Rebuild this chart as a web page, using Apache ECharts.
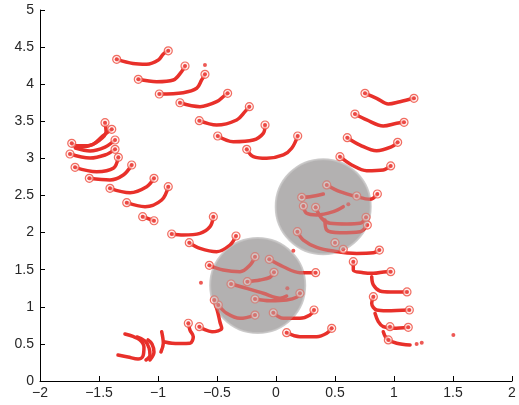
<!DOCTYPE html>
<html>
<head>
<meta charset="utf-8">
<script src="https://cdn.jsdelivr.net/npm/echarts@6/dist/echarts.min.js"></script>
<style>html,body{margin:0;padding:0;background:#fff}#c{width:519px;height:405px}</style>
</head>
<body>
<div id="c"></div>
<script>
// ---- data ----
const xTicks = [-2, -1.5, -1, -0.5, 0, 0.5, 1, 1.5, 2];
const yTicks = [0, 0.5, 1, 1.5, 2, 2.5, 3, 3.5, 4, 4.5, 5];

// obstacle centres
const obstacles = [[0.40, 2.35], [-0.155, 1.287]];

// trajectories: points, and which ends carry a ring marker
const trajT1 = [[-1.35,4.335],[-1.212,4.28],[-1.096,4.27],[-0.997,4.326],[-0.955,4.407],[-0.913,4.45]];
const trajT2 = [[-1.167,4.066],[-1.011,4.034],[-0.87,4.057],[-0.80,4.17],[-0.771,4.245]];
const trajT3 = [[-0.989,3.868],[-0.786,3.886],[-0.672,3.945],[-0.63,4.057],[-0.602,4.133]];
const trajT4 = [[-0.814,3.75],[-0.644,3.697],[-0.503,3.764],[-0.432,3.854],[-0.41,3.877]];
const trajT5 = [[-0.65,3.508],[-0.503,3.45],[-0.333,3.518],[-0.263,3.63],[-0.226,3.697]];
const trajT6 = [[-0.494,3.302],[-0.362,3.225],[-0.192,3.248],[-0.108,3.338],[-0.093,3.45]];
const trajT7 = [[-0.248,3.122],[-0.192,3.023],[-0.079,3.001],[0.062,3.046],[0.133,3.136],[0.184,3.302]];

const trajK1 = [[-1.731,3.203],[-1.66,3.15],[-1.55,3.19],[-1.47,3.3],[-1.392,3.392]];
const trajK2 = [[-1.449,3.481],[-1.44,3.36],[-1.5,3.24],[-1.6,3.17],[-1.72,3.17]];
const trajK3 = [[-1.746,3.059],[-1.576,3.005],[-1.449,3.046],[-1.364,3.122]];
const trajK4 = [[-1.70,3.14],[-1.576,3.10],[-1.449,3.153],[-1.364,3.248]];
const trajK5 = [[-1.703,2.88],[-1.52,2.821],[-1.379,2.867],[-1.336,3.015]];
const trajK6 = [[-1.582,2.732],[-1.407,2.709],[-1.294,2.776],[-1.223,2.911]];
const trajK7 = [[-1.407,2.597],[-1.237,2.538],[-1.096,2.619],[-1.034,2.732]];
const trajK8 = [[-1.265,2.403],[-1.11,2.349],[-0.969,2.439],[-0.913,2.619]];
const trajK9 = [[-1.13,2.214],[-1.034,2.16]];

const trajR1 = [[0.754,3.877],[0.853,3.81],[0.952,3.733],[1.051,3.764],[1.169,3.81]];
const trajR2 = [[0.669,3.598],[0.769,3.518],[0.909,3.437],[1.023,3.473],[1.085,3.486]];
const trajR3 = [[0.604,3.279],[0.712,3.18],[0.853,3.104],[0.981,3.158],[1.031,3.217]];
const trajR4 = [[0.542,3.023],[0.642,2.911],[0.769,2.834],[0.909,2.844],[0.972,2.898]];

const trajE1 = [[0.43,2.642],[0.542,2.551],[0.684,2.484],[0.797,2.449],[0.859,2.52]];
const trajE2 = [[0.218,2.476],[0.288,2.484],[0.401,2.52]];
const trajE3 = [[0.232,2.358],[0.26,2.26],[0.345,2.237],[0.486,2.282],[0.57,2.349]];
const trajE4 = [[0.336,2.341],[0.387,2.193],[0.458,2.125],[0.599,2.116],[0.712,2.125],[0.763,2.206]];
const trajE5 = [[0.415,2.17],[0.43,2.035],[0.542,1.999],[0.712,2.012],[0.774,2.102]];
const trajF  = [[0.181,2.012],[0.232,1.9],[0.345,1.802],[0.486,1.752],[0.684,1.72],[0.825,1.728],[0.876,1.765]];

const trajC1 = [[0.655,1.608],[0.655,1.496],[0.739,1.46],[0.825,1.451],[0.938,1.473],[0.972,1.473]];
const trajC2 = [[0.811,1.406],[0.825,1.294],[0.881,1.213],[0.972,1.2],[1.11,1.2]];
const trajC3 = [[0.825,1.136],[0.811,1.047],[0.853,0.957],[0.938,0.947],[1.13,0.957]];
const trajC4 = [[0.839,0.912],[0.867,0.80],[0.909,0.732],[0.994,0.71],[1.121,0.723]];
const trajC5 = [[0.909,0.664],[0.938,0.575],[1.023,0.508],[1.136,0.485]];

const trajH1 = [[0.09,0.651],[0.203,0.597],[0.345,0.597],[0.43,0.643],[0.472,0.71]];
const trajH2 = [[-0.023,0.92],[0.062,0.845],[0.203,0.845],[0.288,0.889],[0.322,0.957]];

const trajM1 = [[-0.884,1.981],[-0.786,1.968],[-0.644,1.99],[-0.559,2.08],[-0.531,2.214]];
const trajM2 = [[-0.735,1.864],[-0.644,1.788],[-0.503,1.743],[-0.39,1.833],[-0.339,1.954]];

const trajG1 = [[-0.565,1.559],[-0.447,1.496],[-0.305,1.473],[-0.22,1.563],[-0.178,1.675]];
const trajG2 = [[-0.057,1.64],[0.062,1.54],[0.203,1.46],[0.336,1.46]];
const trajG3 = [[-0.243,1.338],[-0.136,1.361],[-0.051,1.397],[-0.017,1.465]];
const trajG4 = [[-0.381,1.307],[-0.248,1.249],[-0.108,1.182],[0.034,1.115],[0.09,1.146]];
const trajG5 = [[-0.178,1.105],[-0.051,1.082],[0.09,1.092],[0.175,1.128],[0.203,1.182]];
const trajD1 = [[-0.489,1.024],[-0.418,0.912],[-0.305,0.845],[-0.178,0.889]];
const trajD2 = [[-0.523,1.092],[-0.492,0.916],[-0.475,0.795],[-0.46,0.71],[-0.542,0.664],[-0.619,0.701],[-0.65,0.732]];

const trajB1 = [[-1.339,0.350],[-1.254,0.323],[-1.169,0.296],[-1.127,0.337],[-1.119,0.458],[-1.153,0.553],[-1.212,0.600],[-1.280,0.633]];
const trajB2 = [[-1.178,0.593],[-1.110,0.539],[-1.076,0.445],[-1.068,0.350],[-1.102,0.283]];
const trajB3 = [[-1.085,0.553],[-1.051,0.499],[-1.034,0.391],[-1.068,0.283]];
const trajB4 = [[-0.969,0.664],[-0.955,0.508],[-0.975,0.391]];
const trajB5 = [[-0.941,0.526],[-0.881,0.508],[-0.814,0.505],[-0.729,0.508],[-0.701,0.597],[-0.729,0.687],[-0.743,0.778]];

// [trajectory, ring ends]
const trajectories = [
  [trajT1,'both'],[trajT2,'both'],[trajT3,'both'],[trajT4,'both'],[trajT5,'both'],[trajT6,'both'],[trajT7,'both'],
  [trajK1,'both'],[trajK2,'start'],[trajK3,'both'],[trajK4,'end'],[trajK5,'both'],[trajK6,'both'],[trajK7,'both'],[trajK8,'both'],[trajK9,'both'],
  [trajR1,'both'],[trajR2,'both'],[trajR3,'both'],[trajR4,'both'],
  [trajE1,'both'],[trajE2,'start'],[trajE3,'start'],[trajE4,'both'],[trajE5,'end'],[trajF,'both'],
  [trajC1,'both'],[trajC2,'end'],[trajC3,'both'],[trajC4,'end'],[trajC5,'none'],
  [trajH1,'both'],[trajH2,'both'],[trajM1,'both'],[trajM2,'both'],
  [trajG1,'both'],[trajG2,'both'],[trajG3,'both'],[trajG4,'start'],[trajG5,'both'],[trajD1,'both'],[trajD2,'both'],
  [trajB1,'none'],[trajB2,'none'],[trajB3,'none'],[trajB4,'none'],[trajB5,'end']
];

// extra ring markers and isolated dots
const extraRings = [[0.684,2.493],[0.50,1.864],[0.57,1.775],[0.966,0.732],[0.952,0.553]];
const looseDots = [[-0.602,4.26],[0.613,2.381],[0.096,1.249],[0.147,1.756],[-0.636,1.325],[1.192,0.499],[1.235,0.516],[1.503,0.62]];

// ---- chart ----
const RED = '#e8302a';
const rings = [];
trajectories.forEach(([p, e]) => {
  if (e === 'both' || e === 'start') rings.push(p[0]);
  if (e === 'both' || e === 'end') rings.push(p[p.length - 1]);
});
extraRings.forEach(p => rings.push(p));

const fmt = v => String(v).replace('-', '\u2212');
const series = [];
series.push({
  type: 'scatter', data: obstacles, symbolSize: 95, z: 1, silent: true,
  itemStyle: { color: '#b3b1b1', borderColor: '#cdcccc', borderWidth: 2, opacity: 1 }
});
trajectories.forEach(([p]) => {
  series.push({
    type: 'line', data: p, smooth: 0.35, showSymbol: false, symbol: 'none', z: 2, silent: true,
    lineStyle: { color: RED, width: 3.5, cap: 'round', join: 'round' }
  });
});
series.push({
  type: 'scatter', data: rings, symbol: 'circle', symbolSize: 8, z: 3, silent: true,
  itemStyle: { color: 'rgba(255,235,232,0.85)', borderColor: '#ee4a3c', borderWidth: 1.2 }
});
series.push({
  type: 'scatter', data: rings.concat(looseDots), symbol: 'circle', symbolSize: 4, z: 4, silent: true,
  itemStyle: { color: RED }
});
series.push({
  type: 'scatter', data: obstacles, symbolSize: 95, z: 5, silent: true,
  itemStyle: { color: '#b3b1b1', opacity: 0.42 }
});

const axisCommon = {
  type: 'value', interval: 0.5,
  axisLine: { show: true, onZero: false, lineStyle: { color: '#000', width: 1 } },
  axisTick: { show: true, inside: true, length: 5, lineStyle: { color: '#000' } },
  splitLine: { show: false },
  axisLabel: { color: '#262626', fontSize: 14, fontFamily: 'Liberation Sans, Arial, sans-serif', formatter: fmt }
};
const chart = echarts.init(document.getElementById('c'), null, { renderer: 'canvas' });
chart.setOption({
  animation: false,
  backgroundColor: '#fff',
  grid: { left: 40, right: 7, top: 10, bottom: 24, containLabel: false },
  xAxis: Object.assign({}, axisCommon, { min: xTicks[0], max: xTicks[xTicks.length - 1],
    axisLabel: Object.assign({}, axisCommon.axisLabel, { margin: 5 }) }),
  yAxis: Object.assign({}, axisCommon, { min: yTicks[0], max: yTicks[yTicks.length - 1],
    axisLabel: Object.assign({}, axisCommon.axisLabel, { margin: 6 }) }),
  series: series
});
</script>
</body>
</html>
